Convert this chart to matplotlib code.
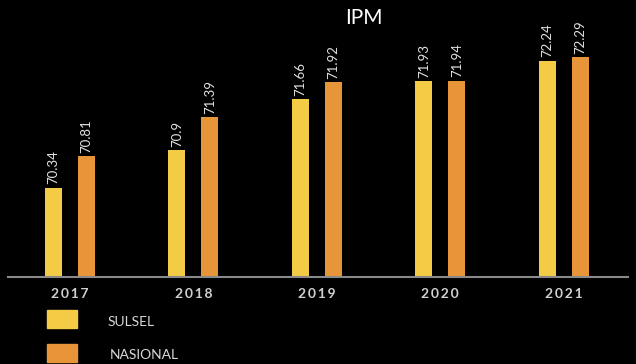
import matplotlib
matplotlib.use("Agg")
import matplotlib.pyplot as plt
from matplotlib.patches import Rectangle
import numpy as np

years = ["2017", "2018", "2019", "2020", "2021"]
sulsel = [70.34, 70.9, 71.66, 71.93, 72.24]
nasional = [70.81, 71.39, 71.92, 71.94, 72.29]
sulsel_labels = ["70.34", "70.9", "71.66", "71.93", "72.24"]
nasional_labels = ["70.81", "71.39", "71.92", "71.94", "72.29"]

YELLOW = "#F4CB45"
ORANGE = "#E8953A"
TXT = "#E2E2E2"

plt.rcParams['font.family'] = ['Lato', 'DejaVu Sans']

fig = plt.figure(figsize=(6.36, 3.64), dpi=100, facecolor="black")
ax = fig.add_axes([0.0126, 0.239, 0.9744, 0.706])
ax.set_facecolor("black")

x = np.arange(len(years))
off = 0.134
w = 0.138
ax.bar(x - off, sulsel, width=w, color=YELLOW)
ax.bar(x + off, nasional, width=w, color=ORANGE)
ax.set_ylim(69.0, 72.85)
ax.set_xlim(-0.502, 4.518)

for i in range(len(years)):
    ax.text(x[i] - off, sulsel[i] + 0.05, sulsel_labels[i], rotation=90, ha="center",
            va="bottom", color=TXT, fontsize=9.5)
    ax.text(x[i] + off, nasional[i] + 0.05, nasional_labels[i], rotation=90, ha="center",
            va="bottom", color=TXT, fontsize=9.5)

for s in ["top", "right", "left"]:
    ax.spines[s].set_visible(False)
ax.spines["bottom"].set_color("#8a8a8a")
ax.spines["bottom"].set_linewidth(1.5)
ax.set_yticks([])
ax.set_xticks(x)
ax.set_xticklabels(["\u2009".join(y) for y in years], color="#D0D0D0", fontsize=10,
                   fontweight="bold")
ax.tick_params(axis="x", length=0, pad=8)

fig.text(364/636, 1-18/364, "IPM", color="white", fontsize=15, ha="center", va="center")

# legend
fig.patches.append(Rectangle((47/636, 1-328/364), 30/636, 18/364, transform=fig.transFigure,
                             color=YELLOW))
fig.patches.append(Rectangle((47/636, 1-362/364), 30/636, 18/364, transform=fig.transFigure,
                             color=ORANGE))
fig.text(108/636, 1-322/364, "SULSEL", color="#D8D8D8", fontsize=10, va="center")
fig.text(110/636, 1-355/364, "NASIONAL", color="#D8D8D8", fontsize=10, va="center")

fig.savefig("out.png", dpi=100, facecolor="black")
